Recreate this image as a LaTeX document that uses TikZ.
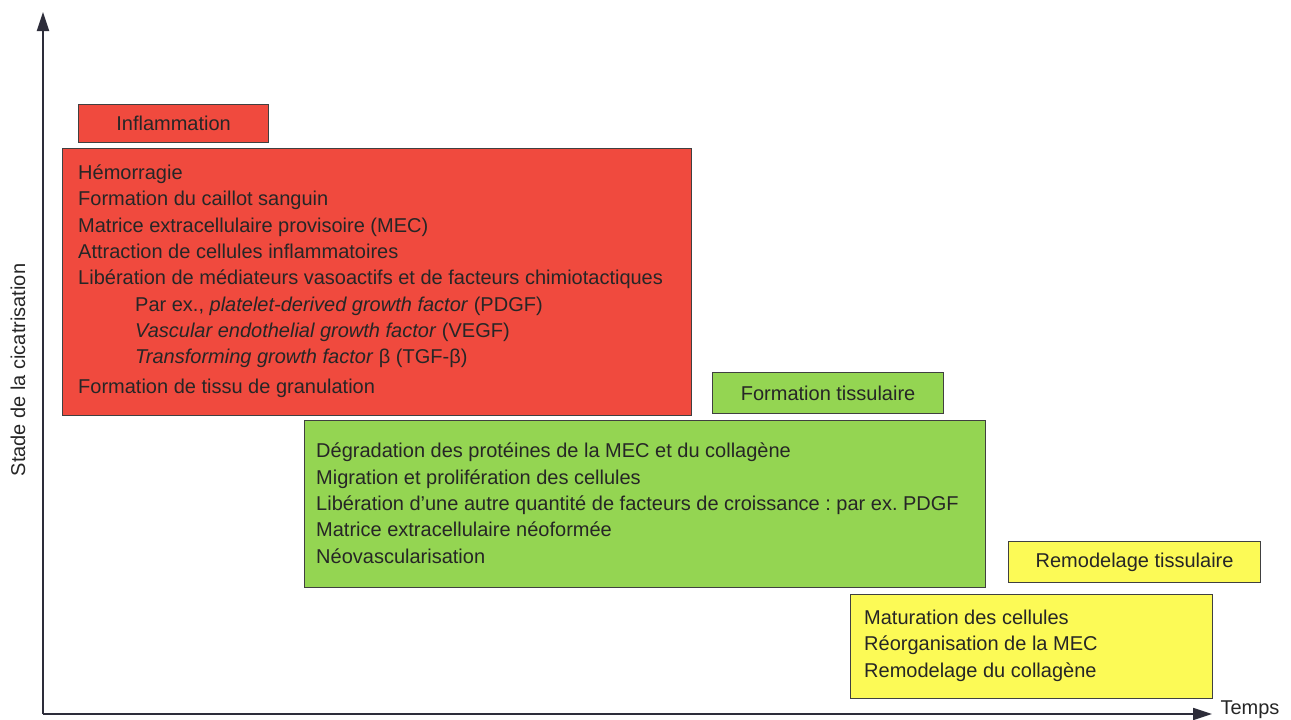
\documentclass[tikz,border=0pt]{standalone}
\usepackage{fontspec}
\setmainfont{Liberation Sans}
\usetikzlibrary{arrows.meta,positioning}

\definecolor{inflamred}{RGB}{240,74,62}
\definecolor{tissugreen}{RGB}{148,213,82}
\definecolor{remodyellow}{RGB}{252,250,86}
\definecolor{axisgray}{RGB}{45,45,58}

\begin{document}
\frenchspacing
\begin{tikzpicture}[
    x=1pt, y=-1pt,
    phase/.style={rectangle, draw=black!75, line width=1.2pt, inner sep=0pt, anchor=north west},
    label/.style={font=\fontsize{20}{24}\selectfont, text=black!85},
    items/.style={align=left, inner sep=0pt, anchor=base west, font=\fontsize{20}{26.3}\selectfont, text=black!85},
    axis/.style={-{Triangle[length=19pt,width=12pt]}, line width=1.8pt, draw=axisgray}
]
    \useasboundingbox (0,0) rectangle (1291,720);

    % Origin of axes
    \coordinate (origin) at (43,714);
    \coordinate (ytop) at (43,12);
    \coordinate (xend) at (1212,714);

    % Inflammation
    \node[phase, fill=inflamred, minimum width=190, minimum height=38] (inflam) at (78,104) {};
    \node[label] at (inflam.center) {Inflammation};
    \node[phase, fill=inflamred, minimum width=629, minimum height=267] (inflam_box) at (62,148) {};
    \node[items] (inflam_list) at (78,393) {H\'emorragie\\
        Formation du caillot sanguin\\
        Matrice extracellulaire provisoire (MEC)\\
        Attraction de cellules inflammatoires\\
        Lib\'eration de m\'ediateurs vasoactifs et de facteurs chimiotactiques\\
        \hspace*{57pt}Par ex., \textit{platelet-derived growth factor} (PDGF)\\
        \hspace*{57pt}\textit{Vascular endothelial growth factor} (VEGF)\\
        \hspace*{57pt}\textit{Transforming growth factor} β (TGF-β)\\[3pt]
        Formation de tissu de granulation};

    % Formation tissulaire
    \node[phase, fill=tissugreen, minimum width=231, minimum height=41] (tissu) at (712,372) {};
    \node[label] at (tissu.center) {Formation tissulaire};
    \node[phase, fill=tissugreen, minimum width=681, minimum height=167] (tissu_box) at (304,420) {};
    \node[items] (tissu_list) at (316,563) {D\'egradation des prot\'eines de la MEC et du collag\`ene\\
        Migration et prolif\'eration des cellules\\
        Lib\'eration d'une autre quantit\'e de facteurs de croissance : par ex. PDGF\\
        Matrice extracellulaire n\'eoform\'ee\\
        N\'eovascularisation};

    % Remodelage tissulaire
    \node[phase, fill=remodyellow, minimum width=252, minimum height=41] (remod) at (1008,541) {};
    \node[label] at (remod.center) {Remodelage tissulaire};
    \node[phase, fill=remodyellow, minimum width=362, minimum height=104] (remod_box) at (850,594) {};
    \node[items] (remod_list) at (864,677) {Maturation des cellules\\
        R\'eorganisation de la MEC\\
        Remodelage du collag\`ene};

    % Axes
    \draw[axis] (origin) -- (ytop);
    \draw[axis] (origin) -- (xend);
    \node[label, anchor=west] (temps) at (1217,710) {Temps};
    \node[label, rotate=90] (stade) at (18,370) {Stade de la cicatrisation};

\end{tikzpicture}
\end{document}
